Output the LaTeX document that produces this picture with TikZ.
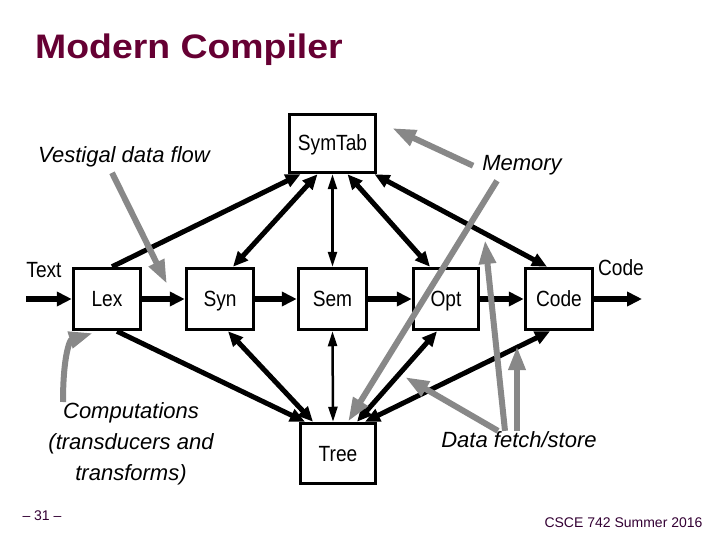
\documentclass[tikz,border=0pt]{standalone}
\usepackage{fontspec}
\setmainfont{Liberation Sans}
\newfontfamily\boxfont[FakeStretch=0.87]{Liberation Sans}
\newfontfamily\titlefont[FakeStretch=1.1]{Liberation Sans}
\usetikzlibrary{arrows.meta}
\definecolor{maroon}{RGB}{102,0,51}
\definecolor{footer}{RGB}{51,0,51}
\definecolor{notegray}{RGB}{136,136,136}

\begin{document}
\begin{tikzpicture}[x=1pt, y=-1pt,
	block/.style={draw, line width=3.5pt, minimum width=67pt, minimum height=61pt, inner sep=0pt, text height=15pt, text depth=0pt, font=\boxfont\fontsize{22}{25}\selectfont},
	lbl/.style={inner sep=0pt, font=\boxfont\fontsize{22}{25}\selectfont},
	remark/.style={inner sep=0pt, font=\itshape\fontsize{22}{31}\selectfont},
	flow/.style={line width=6pt, >={Triangle[length=15pt,width=14pt]}},
	link/.style={line width=5pt, >={Triangle[length=15pt,width=13pt]}},
	thinlink/.style={line width=2.5pt, >={Triangle[length=15pt,width=9pt]}},
	note/.style={draw=notegray, line width=6pt, -{Triangle[length=24pt,width=16pt]}, notegray}]
	\useasboundingbox (0,0) rectangle (720,540);
	\node[anchor=base west, inner sep=0pt, text=maroon, font=\titlefont\bfseries\fontsize{34}{40}\selectfont] (title) at (35,59) {Modern Compiler};

	\node[block, minimum width=86pt, minimum height=58pt] (symtab) at (332.5,143.5) {SymTab};
	\node[block] (lex) at (107,299) {Lex};
	\node[block] (syn) at (220,299) {Syn};
	\node[block, minimum width=68pt] (sem) at (332.5,299) {Sem};
	\node[block, minimum width=65pt] (opt) at (446,299) {Opt};
	\node[block] (code) at (559,299) {Code};
	\node[block, minimum width=75pt, minimum height=60pt] (tree) at (338,453.5) {Tree};

	\node[lbl] (textlbl) at (44,270) {Text};
	\node[lbl] (codelbl) at (621,268) {Code};
	\coordinate (in) at (26,299);
	\coordinate (out) at (642,299);

	\draw[flow, ->] (in) -- (lex);
	\draw[flow, ->] (lex) -- (syn);
	\draw[flow, ->] (syn) -- (sem);
	\draw[flow, ->] (sem) -- (opt);
	\draw[flow, ->] (opt) -- (code);
	\draw[flow, ->] (code) -- (out);

	\draw[link, ->] ([xshift=5pt]lex.north) -- ([xshift=-32pt]symtab.south);
	\draw[link, <->] ([xshift=13pt]syn.north) -- ([xshift=-15pt]symtab.south);
	\draw[thinlink, <->] (sem.north) -- (symtab.south);
	\draw[link, <->] ([xshift=-16pt]opt.north) -- ([xshift=15pt]symtab.south);
	\draw[link, <->] ([xshift=-12pt]code.north) -- ([xshift=42pt]symtab.south);

	\draw[link, ->] ([xshift=10pt]lex.south) -- ([xshift=-33pt]tree.north);
	\draw[link, <->] ([xshift=8pt]syn.south) -- ([xshift=-25pt]tree.north);
	\draw[thinlink, <->] (sem.south) -- ([xshift=-5pt]tree.north);
	\draw[link, <->] ([xshift=-9pt]opt.south) -- ([xshift=19pt]tree.north);
	\draw[link, <->] ([xshift=-9pt]code.south) -- ([xshift=27pt]tree.north);

	\node[remark, anchor=base] (vestigal) at (124,163) {Vestigal data flow};
	\node[remark, anchor=base] (memory) at (522,171) {Memory};
	\node[remark, anchor=north, align=center] (comp) at (131,402) {Computations\\(transducers and\\transforms)};
	\node[remark, anchor=base] (fetch) at (519,447) {Data fetch/store};

	\coordinate (vtip) at (167,284);
	\coordinate (mtip) at (392,128);
	\coordinate (ftip) at (405,377);
	\coordinate (gtip) at (485,240);
	\coordinate (htip) at (517,346);
	\coordinate (ctip) at (93,333);

	\draw[note] ([xshift=-12pt, yshift=-5pt]vestigal.south) -- (vtip);
	\draw[note] ([xshift=-9pt]memory.west) -- (mtip);
	\draw[note] ([xshift=-25pt, yshift=-5pt]memory.south) -- ([xshift=10pt]tree.north);
	\draw[note] ([xshift=-68pt]comp.north) .. controls (63,355) and (70,340) .. (ctip);
	\draw[note] ([xshift=-21pt]fetch.north) -- (ftip);
	\draw[note] ([xshift=-14pt]fetch.north) -- (gtip);
	\draw[note] ([xshift=-2pt]fetch.north) -- (htip);

	\node[inner sep=0pt, anchor=base, text=footer, font=\fontsize{14}{16}\selectfont] (page) at (42,520) {-- 31 --};
	\node[inner sep=0pt, anchor=base, text=footer, font=\fontsize{14}{16}\selectfont] (course) at (623.5,527) {CSCE 742 Summer 2016};
\end{tikzpicture}
\end{document}
